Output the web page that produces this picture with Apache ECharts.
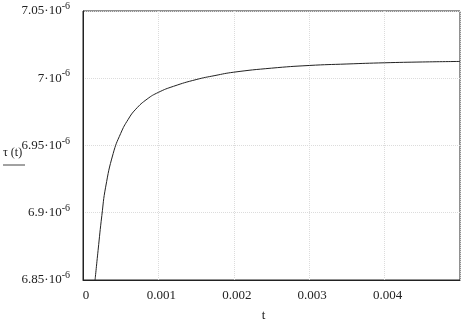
<!DOCTYPE html>
<html>
<head>
<meta charset="utf-8">
<script src="https://cdn.jsdelivr.net/npm/echarts@6/dist/echarts.min.js"></script>
<style>
html, body { margin: 0; padding: 0; background: #fff; }
#chart { width: 461px; height: 327px; }
</style>
</head>
<body>
<div id="chart"></div>
<script>
// t in seconds, tau in units of 1e-6
var tValues = [0.00016, 0.00020, 0.00025, 0.00030, 0.00040, 0.00050, 0.00060, 0.00070,
               0.00085, 0.00100, 0.00120, 0.00150, 0.00175, 0.00200, 0.00250, 0.00300,
               0.00350, 0.00400, 0.00450, 0.00500];
var tauMicro = [6.850, 6.872, 6.898, 6.919, 6.944, 6.959, 6.9695, 6.977,
                6.9845, 6.9895, 6.994, 6.999, 7.002, 7.0045, 7.0075, 7.0095,
                7.0106, 7.0115, 7.0121, 7.0125];
var xTicks = ['0', '0.001', '0.002', '0.003', '0.004'];

var points = tValues.map(function (t, i) { return [t, tauMicro[i]]; });

var serif = '"Liberation Serif", "DejaVu Serif", serif';
var myChart = echarts.init(document.getElementById('chart'));

var option = {
    animation: false,
    textStyle: { fontFamily: serif },
    grid: {
        show: true,
        borderColor: '#222',
        borderWidth: 1,
        left: 83,
        right: 1,
        top: 11,
        bottom: 34
    },
    xAxis: {
        type: 'value',
        min: 0,
        max: 0.005,
        interval: 0.001,
        name: 't',
        nameLocation: 'middle',
        nameGap: 29,
        nameTextStyle: { fontFamily: serif, fontSize: 13, color: '#222', padding: [0, 16, 0, 0] },
        axisLine: { show: true, lineStyle: { color: '#222' } },
        axisTick: { show: false },
        axisLabel: {
            fontFamily: serif,
            fontSize: 13,
            color: '#222',
            margin: 9,
            padding: [0, 0, 0, 6],
            showMaxLabel: false,
            formatter: function (v) {
                var i = Math.round(v / 0.001);
                return xTicks[i] !== undefined ? xTicks[i] : '';
            }
        },
        splitLine: { show: true, lineStyle: { color: '#dcdcdc', type: 'dotted' } }
    },
    yAxis: {
        type: 'value',
        min: 6.85,
        max: 7.05,
        interval: 0.05,
        axisLine: { show: true, lineStyle: { color: '#222' } },
        axisTick: { show: false },
        axisLabel: {
            fontFamily: serif,
            fontSize: 13,
            color: '#222',
            margin: 13,
            formatter: function (v) {
                return parseFloat(v.toFixed(2)) + '\u00b710{sup|-6}';
            },
            rich: {
                sup: { fontFamily: serif, fontSize: 10, color: '#222', verticalAlign: 'bottom', padding: [0, 0, 9, 0] }
            }
        },
        splitLine: { show: true, lineStyle: { color: '#dcdcdc', type: 'dotted' } }
    },
    graphic: [
        {
            type: 'text',
            left: 3,
            top: 147,
            style: { text: '\u03c4 (t)', font: '12px ' + serif, fill: '#222' }
        },
        {
            type: 'line',
            shape: { x1: 3, y1: 165, x2: 25, y2: 165 },
            style: { stroke: '#444', lineWidth: 1 }
        }
    ],
    series: [
        {
            type: 'line',
            data: points,
            smooth: true,
            showSymbol: false,
            lineStyle: { color: '#222', width: 1 }
        }
    ]
};

myChart.setOption(option);
</script>
</body>
</html>
